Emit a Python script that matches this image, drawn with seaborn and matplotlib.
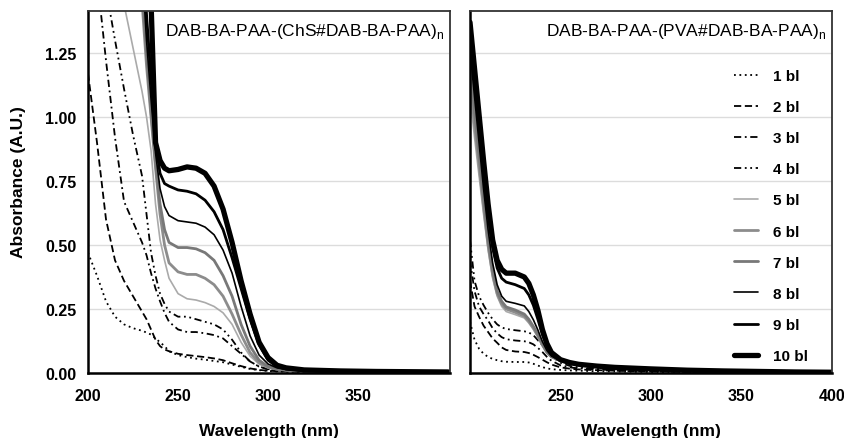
import matplotlib
matplotlib.use("Agg")
import matplotlib.pyplot as plt
import seaborn as sns

# wavelength grids (nm)
WL_CHS = [200, 205, 210, 215, 220, 225, 230, 232.5, 235, 237.5, 240, 242.5, 245, 250, 255, 260,
          265, 270, 275, 280, 285, 290, 295, 300, 305, 310, 320, 340, 360, 380, 400]
WL_PVA = [200, 202.5, 205, 207.5, 210, 212.5, 215, 217.5, 220, 225, 230, 232.5, 235, 237.5, 240,
          242.5, 245, 250, 255, 260, 270, 280, 290, 300, 320, 340, 360, 380, 400]

LABELS = ["1 bl", "2 bl", "3 bl", "4 bl", "5 bl", "6 bl", "7 bl", "8 bl", "9 bl", "10 bl"]

# absorbance, ChS multilayers (left panel)
CHS = [
    [0.47, 0.38, 0.28, 0.22, 0.19, 0.175, 0.165, 0.158, 0.15, 0.135, 0.12, 0.105, 0.085, 0.07, 0.062, 0.056,
     0.052, 0.047, 0.042, 0.033, 0.024, 0.016, 0.011, 0.008, 0.006, 0.005, 0.004, 0.003, 0.003, 0.002, 0.002],
    [1.17, 0.90, 0.60, 0.44, 0.36, 0.30, 0.24, 0.21, 0.17, 0.13, 0.105, 0.092, 0.085, 0.075, 0.07, 0.066,
     0.062, 0.057, 0.05, 0.038, 0.027, 0.018, 0.012, 0.009, 0.007, 0.006, 0.005, 0.004, 0.003, 0.003, 0.003],
    [2.0, 1.55, 1.22, 0.92, 0.67, 0.59, 0.51, 0.46, 0.39, 0.33, 0.28, 0.235, 0.20, 0.17, 0.16, 0.16,
     0.155, 0.148, 0.135, 0.105, 0.075, 0.045, 0.025, 0.015, 0.01, 0.008, 0.006, 0.005, 0.004, 0.004, 0.004],
    [3.0, 2.2, 1.5, 1.30, 1.11, 0.93, 0.77, 0.62, 0.47, 0.38, 0.31, 0.27, 0.24, 0.22, 0.22, 0.21,
     0.20, 0.19, 0.17, 0.13, 0.08, 0.045, 0.025, 0.015, 0.011, 0.009, 0.007, 0.005, 0.004, 0.004, 0.004],
    [4.0, 2.3, 1.8, 1.6, 1.44, 1.27, 1.10, 1.00, 0.87, 0.66, 0.52, 0.44, 0.37, 0.31, 0.29, 0.285,
     0.275, 0.26, 0.235, 0.19, 0.12, 0.066, 0.035, 0.02, 0.014, 0.01, 0.007, 0.005, 0.004, 0.003, 0.003],
    [4.0, 3.5, 3.0, 2.8, 2.5, 2.0, 1.45, 1.2, 1.0, 0.80, 0.62, 0.50, 0.43, 0.395, 0.385, 0.385,
     0.37, 0.345, 0.30, 0.23, 0.15, 0.08, 0.04, 0.022, 0.015, 0.011, 0.008, 0.005, 0.004, 0.003, 0.003],
    [4.0, 3.5, 3.0, 2.8, 2.6, 2.1, 1.5, 1.25, 1.02, 0.82, 0.66, 0.56, 0.51, 0.49, 0.49, 0.485,
     0.47, 0.44, 0.38, 0.30, 0.19, 0.105, 0.05, 0.025, 0.016, 0.012, 0.008, 0.006, 0.005, 0.004, 0.004],
    [4.0, 3.5, 3.0, 2.8, 2.7, 2.2, 1.6, 1.3, 1.07, 0.86, 0.72, 0.65, 0.615, 0.595, 0.59, 0.585,
     0.57, 0.54, 0.48, 0.39, 0.26, 0.145, 0.07, 0.035, 0.02, 0.014, 0.009, 0.006, 0.005, 0.004, 0.004],
    [4.0, 3.5, 3.0, 2.8, 2.7, 2.3, 1.7, 1.4, 1.15, 0.90, 0.78, 0.74, 0.73, 0.715, 0.71, 0.70,
     0.675, 0.63, 0.56, 0.45, 0.33, 0.21, 0.11, 0.05, 0.025, 0.016, 0.01, 0.007, 0.005, 0.004, 0.004],
    [4.0, 3.5, 3.0, 2.8, 2.8, 2.6, 2.2, 1.8, 1.45, 0.90, 0.83, 0.80, 0.79, 0.795, 0.805, 0.80,
     0.78, 0.73, 0.64, 0.51, 0.36, 0.23, 0.12, 0.06, 0.03, 0.02, 0.012, 0.008, 0.006, 0.005, 0.004],
]

# absorbance, PVA multilayers (right panel)
PVA = [
    [0.20, 0.13, 0.095, 0.075, 0.063, 0.055, 0.05, 0.046, 0.044, 0.043, 0.043, 0.041, 0.036, 0.029, 0.023,
     0.018, 0.015, 0.012, 0.01, 0.009, 0.007, 0.006, 0.005, 0.004, 0.003, 0.002, 0.002, 0.001, 0.001],
    [0.36, 0.26, 0.22, 0.185, 0.16, 0.135, 0.118, 0.10, 0.09, 0.084, 0.082, 0.078, 0.071, 0.062, 0.052,
     0.042, 0.033, 0.022, 0.017, 0.014, 0.011, 0.009, 0.007, 0.006, 0.004, 0.003, 0.002, 0.002, 0.001],
    [0.44, 0.32, 0.26, 0.23, 0.205, 0.175, 0.155, 0.14, 0.132, 0.127, 0.124, 0.12, 0.112, 0.098, 0.082,
     0.063, 0.048, 0.03, 0.022, 0.018, 0.014, 0.011, 0.009, 0.007, 0.005, 0.004, 0.003, 0.002, 0.002],
    [0.52, 0.36, 0.30, 0.265, 0.235, 0.21, 0.19, 0.178, 0.172, 0.167, 0.163, 0.158, 0.148, 0.128, 0.108,
     0.085, 0.065, 0.04, 0.028, 0.022, 0.016, 0.013, 0.01, 0.008, 0.006, 0.004, 0.003, 0.002, 0.002],
    [1.08, 0.92, 0.77, 0.62, 0.48, 0.37, 0.30, 0.26, 0.24, 0.228, 0.215, 0.195, 0.17, 0.14, 0.105,
     0.078, 0.062, 0.047, 0.039, 0.034, 0.028, 0.024, 0.02, 0.017, 0.012, 0.008, 0.006, 0.004, 0.003],
    [1.14, 0.97, 0.81, 0.65, 0.50, 0.385, 0.31, 0.27, 0.25, 0.237, 0.222, 0.202, 0.176, 0.145, 0.11,
     0.08, 0.063, 0.048, 0.039, 0.034, 0.028, 0.024, 0.02, 0.017, 0.012, 0.008, 0.006, 0.004, 0.003],
    [1.20, 1.02, 0.85, 0.68, 0.52, 0.40, 0.32, 0.28, 0.258, 0.246, 0.23, 0.21, 0.182, 0.15, 0.113,
     0.082, 0.064, 0.048, 0.039, 0.034, 0.028, 0.024, 0.02, 0.017, 0.012, 0.008, 0.006, 0.004, 0.003],
    [1.26, 1.08, 0.90, 0.72, 0.56, 0.43, 0.345, 0.30, 0.28, 0.272, 0.262, 0.24, 0.208, 0.168, 0.123,
     0.088, 0.066, 0.047, 0.038, 0.032, 0.026, 0.022, 0.019, 0.016, 0.011, 0.008, 0.006, 0.004, 0.003],
    [1.32, 1.14, 0.96, 0.78, 0.62, 0.49, 0.41, 0.37, 0.355, 0.345, 0.33, 0.305, 0.265, 0.21, 0.15,
     0.105, 0.075, 0.05, 0.04, 0.033, 0.027, 0.022, 0.019, 0.016, 0.011, 0.008, 0.006, 0.004, 0.003],
    [1.37, 1.19, 1.01, 0.83, 0.66, 0.52, 0.44, 0.405, 0.39, 0.39, 0.375, 0.35, 0.305, 0.245, 0.17,
     0.115, 0.08, 0.052, 0.041, 0.034, 0.027, 0.022, 0.019, 0.016, 0.011, 0.008, 0.006, 0.004, 0.003],
]

STYLES = [
    dict(color="black", lw=1.3, linestyle=(0, (1, 2))),
    dict(color="black", lw=1.3, linestyle=(0, (4, 2))),
    dict(color="black", lw=1.3, linestyle=(0, (4, 2, 1, 2))),
    dict(color="black", lw=1.3, linestyle=(0, (4, 2, 1, 2, 1, 2))),
    dict(color="#aaaaaa", lw=1.2, linestyle="-"),
    dict(color="#8c8c8c", lw=2.0, linestyle="-"),
    dict(color="#787878", lw=2.0, linestyle="-"),
    dict(color="black", lw=1.2, linestyle="-"),
    dict(color="black", lw=2.0, linestyle="-"),
    dict(color="black", lw=3.8, linestyle="-"),
]

sns.set_style("white")
plt.rcParams["font.family"] = ["Liberation Sans", "DejaVu Sans"]
plt.rcParams["text.color"] = "black"
plt.rcParams["axes.labelcolor"] = "black"
plt.rcParams["xtick.color"] = "black"
plt.rcParams["ytick.color"] = "black"

fig = plt.figure(figsize=(8.44, 4.39), dpi=100)
ax1 = fig.add_axes([88 / 844, 1 - 374 / 439, 362 / 844, 362 / 439])
ax2 = fig.add_axes([470 / 844, 1 - 374 / 439, 362 / 844, 362 / 439])

for ax, wl, data in [(ax1, WL_CHS, CHS), (ax2, WL_PVA, PVA)]:
    for vals, lab, st in zip(data, LABELS, STYLES):
        sns.lineplot(x=wl, y=vals, ax=ax, label=lab, **st)
    ax.set_ylim(0, 1.414)
    ax.set_yticks([0, 0.25, 0.5, 0.75, 1.0, 1.25])
    ax.grid(axis="y", color="#dcdcdc", lw=1.0)
    ax.set_axisbelow(True)
    for side in ["left", "bottom"]:
        ax.spines[side].set_linewidth(1.8)
        ax.spines[side].set_color("black")
    for side in ["top", "right"]:
        ax.spines[side].set_linewidth(1.3)
        ax.spines[side].set_color("#333333")
    ax.tick_params(axis="both", direction="out", length=5, width=1.5, labelsize=11.5, color="black")
    ax.tick_params(axis="x", pad=6)
    ax.set_xlabel("Wavelength (nm)", fontsize=12.5, fontweight="bold", labelpad=14)

ax1.set_xlim(200, 401)
ax1.set_xticks([200, 250, 300, 350])
ax1.set_xticklabels(["200", "250", "300", "350"], fontweight="bold")
ax1.set_yticklabels(["0.00", "0.25", "0.50", "0.75", "1.00", "1.25"], fontweight="bold")
ax1.set_ylabel("Absorbance (A.U.)", fontsize=12.5, fontweight="bold")
ax1.yaxis.set_label_coords(-0.172, 0.53)
ax1.get_legend().remove()
ax1.text(0.985, 0.9475, "DAB-BA-PAA-(ChS#DAB-BA-PAA)$_\\mathregular{n}$", transform=ax1.transAxes,
         ha="right", va="center", fontsize=12.5)

ax2.set_xlim(200, 400)
ax2.set_xticks([250, 300, 350, 400])
ax2.set_xticklabels(["250", "300", "350", "400"], fontweight="bold")
ax2.set_yticklabels([])
ax2.tick_params(axis="y", length=0)
ax2.set_ylabel("")
ax2.text(0.985, 0.9475, "DAB-BA-PAA-(PVA#DAB-BA-PAA)$_\\mathregular{n}$", transform=ax2.transAxes,
         ha="right", va="center", fontsize=12.5)
handles, labels = ax2.get_legend_handles_labels()
leg = ax2.legend(handles, labels, loc="upper left", bbox_to_anchor=(734 / 844, 1 - 70 / 439),
                 bbox_transform=fig.transFigure, frameon=False, handlelength=1.6,
                 handletextpad=0.95, labelspacing=1.12, borderpad=0, borderaxespad=0,
                 prop={"weight": "bold", "size": 11})

fig.savefig("out.png", dpi=100)
